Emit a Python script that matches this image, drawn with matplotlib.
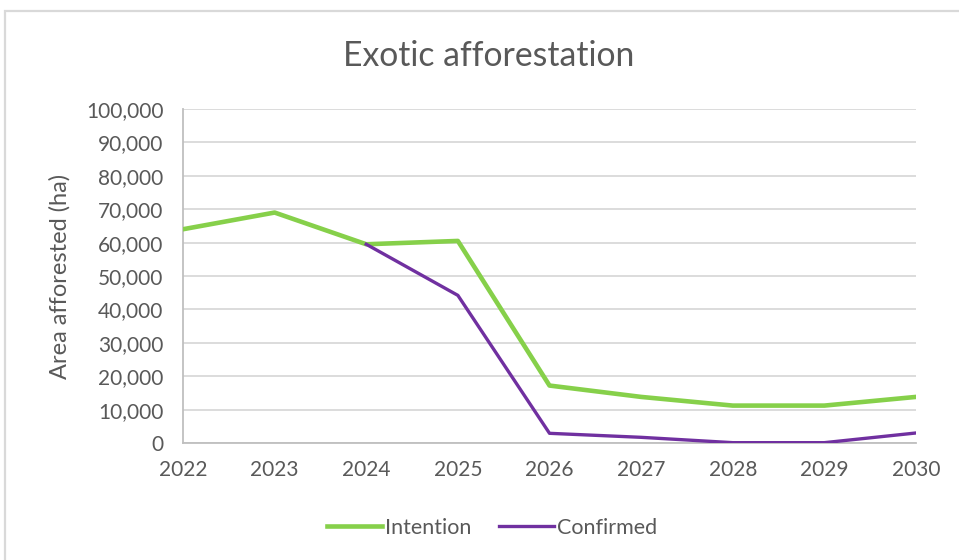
import matplotlib
matplotlib.use("Agg")
import matplotlib.pyplot as plt
from matplotlib.patches import Rectangle
from matplotlib.ticker import FuncFormatter, MultipleLocator

# Annual area of exotic afforestation (hectares)
years = [2022, 2023, 2024, 2025, 2026, 2027, 2028, 2029, 2030]
intention = [64000, 69000, 59500, 60500, 17200, 13800, 11200, 11200, 13800]
confirmed_years = [2024, 2025, 2026, 2027, 2028, 2029, 2030]
confirmed = [59500, 44200, 2900, 1700, 100, 100, 3000]

title = "Exotic afforestation"
y_label = "Area afforested (ha)"

plt.rcParams["font.family"] = ["Lato", "DejaVu Sans"]
text_color = "#595959"
green = "#86D04A"
purple = "#7030A0"

fig = plt.figure(figsize=(9.59, 5.6), dpi=100)
ax = fig.add_axes([183 / 959, 1 - 443 / 560, (916 - 183) / 959, (443 - 109) / 560])

# chart-area border
fig.patches.append(Rectangle((5 / 959, -0.01), 1.0, 1 - 11 / 560 + 0.01,
                             transform=fig.transFigure, fill=False,
                             edgecolor="#D9D9D9", linewidth=1.6))

ax.plot(years, intention, color=green, linewidth=3.3, label="Intention",
        solid_joinstyle="round", zorder=3)
ax.plot(confirmed_years, confirmed, color=purple, linewidth=2.4,
        label="Confirmed", solid_joinstyle="round", zorder=4)

ax.set_xlim(years[0], years[-1])
ax.set_ylim(0, 100000)
ax.yaxis.set_major_locator(MultipleLocator(10000))
ax.yaxis.set_major_formatter(FuncFormatter(lambda v, p: f"{int(v):,}"))
ax.set_xticks(years)

ax.grid(axis="y", color="#D9D9D9", linewidth=1.3)
ax.set_axisbelow(True)
for side in ["top", "right"]:
    ax.spines[side].set_visible(False)
for side in ["left", "bottom"]:
    ax.spines[side].set_color("#BFBFBF")
    ax.spines[side].set_linewidth(1.3)

ax.tick_params(axis="both", length=0, colors=text_color, labelsize=15)
ax.tick_params(axis="y", pad=14)
ax.tick_params(axis="x", pad=12)

ax.set_ylabel(y_label, fontsize=17, color=text_color)
ax.yaxis.set_label_coords((71 - 183) / (916 - 183), 0.5)
fig.text(489 / 959, 1 - 56 / 560, title, ha="center", va="center",
         fontsize=24.3, color=text_color)

leg = fig.legend(loc="center", bbox_to_anchor=(492 / 959, 1 - 528 / 560),
                 ncol=2, frameon=False, fontsize=15.5, handlelength=2.55,
                 handletextpad=0.12, columnspacing=1.3)
for t in leg.get_texts():
    t.set_color(text_color)

fig.savefig("out.png", dpi=100, facecolor="white")
